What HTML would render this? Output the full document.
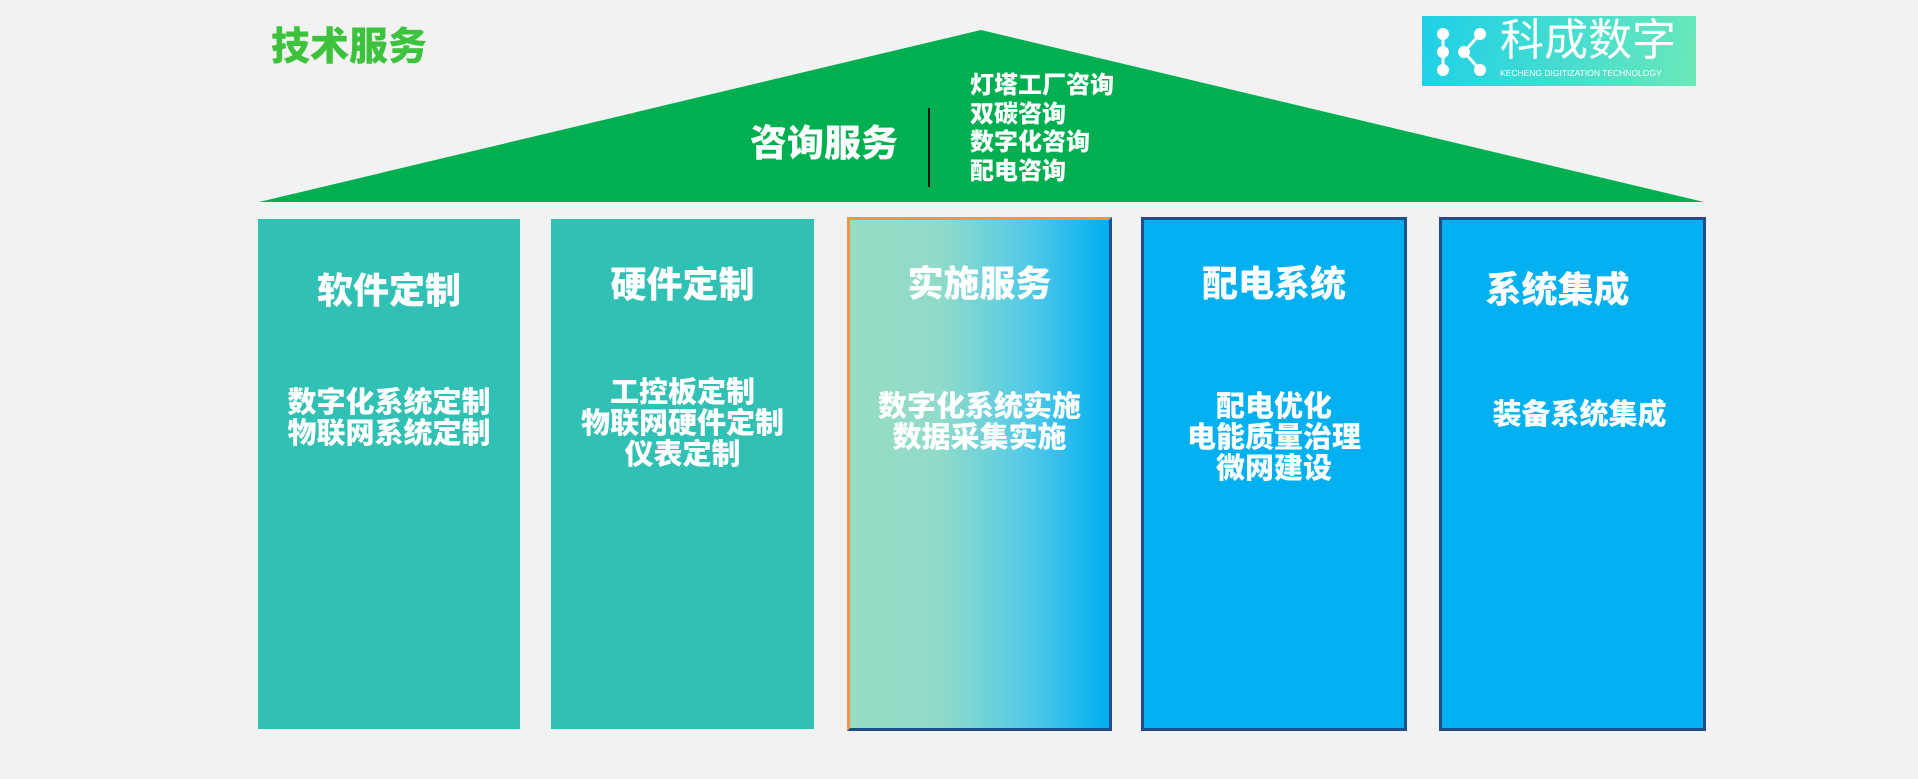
<!DOCTYPE html>
<html><head><meta charset="utf-8"><style>
body{margin:0;width:1918px;height:779px;background:#f2f2f2;position:relative;overflow:hidden;font-family:"Liberation Sans","Noto Sans CJK SC",sans-serif;font-weight:bold}
.a{position:absolute}
.col{position:absolute;top:219px;height:510px;box-sizing:border-box;color:#fff;text-align:center}
.t{position:absolute;left:0;right:0;font-size:36px;line-height:40px;font-weight:900}
.s{position:absolute;left:-10px;right:-10px;font-size:29px;line-height:31px;font-weight:900}
</style></head><body>
<div class="a" style="left:271px;top:26px;font-size:39px;line-height:44px;color:#3cc23c;font-weight:900">技术服务</div>
<svg class="a" style="left:0;top:0" width="1918" height="779"><polygon points="981,30 259,202 1704,202" fill="#00b050"/><line x1="929" y1="108" x2="929" y2="187" stroke="#111" stroke-width="2"/></svg>
<div class="a" style="left:750px;top:123px;font-size:37px;line-height:42px;color:#fff;font-weight:900">咨询服务</div>
<div class="a" style="left:970px;top:72px;font-size:24px;line-height:28.7px;color:#fff;font-weight:900">灯塔工厂咨询<br>双碳咨询<br>数字化咨询<br>配电咨询</div>
<div class="a" style="left:1422px;top:16px;width:274px;height:70px;background:linear-gradient(100deg,#1ed0e8,#6ae8b8)">
<svg class="a" style="left:12px;top:8px" width="56" height="56"><g fill="#fff"><circle cx="9" cy="10" r="6"/><circle cx="9" cy="28" r="6"/><circle cx="9" cy="46" r="6"/><circle cx="30" cy="28" r="6"/><circle cx="46" cy="10" r="6"/><circle cx="46" cy="46" r="6"/></g><path d="M46 10L30 28L46 46M9 10V46" stroke="#fff" stroke-width="3" fill="none"/></svg>
<div class="a" style="left:78px;top:0px;font-size:44px;line-height:50px;color:#fff;font-weight:normal;letter-spacing:0px">科成数字</div>
<div class="a" style="left:78px;top:52px;font-size:8.5px;color:#fff;font-weight:normal">KECHENG DIGITIZATION TECHNOLOGY</div>
</div>
<div class="col" style="left:258px;width:262px;background:#31c0b4"><div class="t" style="top:52px">软件定制</div><div class="s" style="top:169px">数字化系统定制<br>物联网系统定制</div></div>
<div class="col" style="left:551px;width:263px;background:#31c0b4"><div class="t" style="top:46px">硬件定制</div><div class="s" style="top:159px">工控板定制<br>物联网硬件定制<br>仪表定制</div></div>
<div class="col" style="left:847px;width:265px;top:217px;height:514px;border:3px solid;border-color:#f59442 #1f4e8c #1f4e8c #f59442;background:linear-gradient(90deg,#96dcc4 0%,#90dbc9 35%,#4fc9e8 70%,#00aef0 100%)"><div class="t" style="top:44px">实施服务</div><div class="s" style="top:172px">数字化系统实施<br>数据采集实施</div></div>
<div class="col" style="left:1141px;width:266px;top:217px;height:514px;border:3px solid #1f4e8c;background:#00b0f0"><div class="t" style="top:44px">配电系统</div><div class="s" style="top:172px">配电优化<br>电能质量治理<br>微网建设</div></div>
<div class="col" style="left:1439px;width:267px;top:217px;height:514px;border:3px solid #1f4e8c;background:#00b0f0"><div class="t" style="top:50px;left:-30px">系统集成</div><div class="s" style="top:180px;left:4px">装备系统集成</div></div>
</body></html>
